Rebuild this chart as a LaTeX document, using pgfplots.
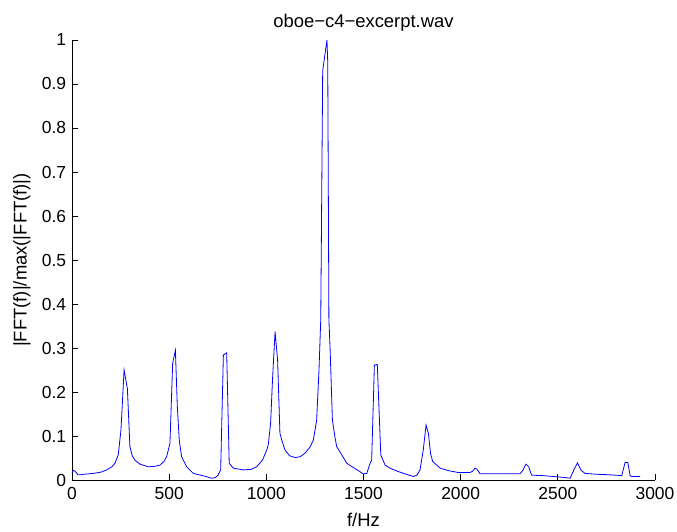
\documentclass[border=0pt]{standalone}
\usepackage{pgfplots}
\pgfplotsset{compat=1.18}
\usepackage{fontspec}
\setmainfont{Liberation Sans}
\begin{document}
\fontsize{17}{20}\selectfont
\begin{tikzpicture}
\begin{axis}[
  scale only axis,
  width=583bp, height=440bp,
  xmin=0, xmax=3000, ymin=0, ymax=1,
  axis lines*=left,
  axis line style={line width=0.7bp, black},
  xtick={0,500,...,3000},
  ytick={0,0.1,...,1.01},
  yticklabels={0,0.1,0.2,0.3,0.4,0.5,0.6,0.7,0.8,0.9,1},
  scaled ticks=false,
  /pgf/number format/1000 sep={},
  /pgf/number format/assume math mode=true,
  tick style={line width=0.7bp, black},
  major tick length=6bp,
  tick label style={font=\fontsize{17.5}{20}\selectfont},
  label style={font=\fontsize{18.5}{22}\selectfont},
  title style={font=\fontsize{18.5}{22}\selectfont, yshift=-3bp},
  title={oboe−c4−excerpt.wav},
  xlabel={f/Hz},
  ylabel={|FFT(f)|/max(|FFT(f)|)},
  xlabel style={yshift=-2bp},
  ylabel style={yshift=0bp},
  xticklabel style={yshift=-1bp},
  clip=false,
]
\addplot[color={rgb,255:red,0;green,0;blue,255}, line width=0.8bp] coordinates {
(0,0.017) (8,0.022) (16,0.020) (30,0.012) (45,0.012) (60,0.013) (110,0.015)
(150,0.018) (178,0.023) (205,0.030) (221,0.038) (238,0.057) (252,0.114)
(268,0.250) (280,0.220) (285,0.208) (298,0.076) (310,0.055) (324,0.045)
(350,0.036) (393,0.030) (425,0.031) (453,0.034) (475,0.043) (487,0.053)
(504,0.083) (518,0.265) (532,0.295) (542,0.167) (552,0.090) (564,0.053)
(590,0.030) (624,0.015) (680,0.009) (719,0.004) (735,0.005) (750,0.010)
(765,0.023) (779,0.284) (796,0.289) (809,0.038) (830,0.027) (881,0.023)
(920,0.024) (950,0.030) (980,0.045) (1002,0.068) (1010,0.080) (1022,0.129)
(1032,0.230) (1045,0.337) (1058,0.273) (1070,0.106) (1080,0.090)
(1096,0.068) (1120,0.055) (1148,0.051) (1175,0.053) (1199,0.061)
(1225,0.075) (1242,0.091) (1259,0.136) (1271,0.250) (1280,0.364)
(1290,0.930) (1312,1.000) (1316,0.950) (1322,0.364) (1328,0.300)
(1340,0.136) (1353,0.098) (1362,0.076) (1379,0.064) (1414,0.038)
(1431,0.033) (1460,0.025) (1499,0.014) (1517,0.015) (1534,0.038)
(1542,0.045) (1556,0.261) (1571,0.263) (1589,0.057) (1611,0.034)
(1640,0.026) (1680,0.019) (1720,0.013) (1757,0.008) (1775,0.011)
(1791,0.023) (1808,0.070) (1822,0.125) (1834,0.106) (1845,0.060)
(1856,0.042) (1894,0.027) (1940,0.021) (1988,0.017) (2048,0.017)
(2062,0.020) (2074,0.027) (2085,0.024) (2100,0.014) (2200,0.014)
(2305,0.014) (2320,0.022) (2336,0.036) (2350,0.030) (2365,0.011)
(2420,0.010) (2477,0.008) (2530,0.006) (2563,0.004) (2585,0.025)
(2601,0.039) (2620,0.022) (2640,0.015) (2700,0.013) (2760,0.012)
(2829,0.010) (2846,0.040) (2860,0.040) (2872,0.010) (2880,0.008)
(2923,0.008)
};
\end{axis}
\pgfresetboundingbox
\useasboundingbox (-72bp,-52bp) rectangle (605bp,480bp);
\end{tikzpicture}
\end{document}
